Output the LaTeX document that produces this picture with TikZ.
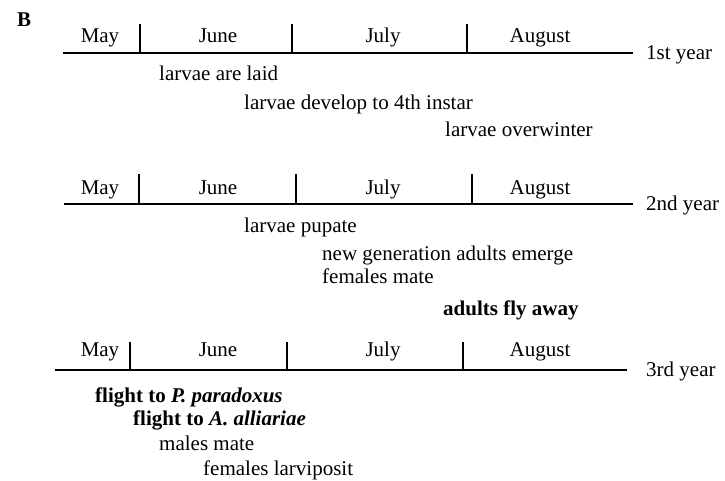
\documentclass[tikz,border=0pt]{standalone}
\usepackage{fontspec}
\setmainfont{Liberation Serif}

\begin{document}
\begin{tikzpicture}[x=1pt,y=-1pt,
  axis/.style={line width=1.4pt},
  txt/.style={font=\fontsize{21}{25}\selectfont,inner sep=0pt,anchor=base west},
  month/.style={txt,anchor=base}]
  \useasboundingbox (0,0) rectangle (725,481);

  \node[txt] (panel) at (17,27) {\textbf{B}};

  \coordinate (a1) at (63,53);  \coordinate (b1) at (633,53);
  \coordinate (a2) at (64,204); \coordinate (b2) at (633,204);
  \coordinate (a3) at (55,370); \coordinate (b3) at (627,370);
  \path[axis]
    (a1) edge (b1)
    (a2) edge (b2)
    (a3) edge (b3);

  \coordinate (t11) at (140,53); \coordinate (t12) at (292,53); \coordinate (t13) at (467,53);
  \coordinate (t21) at (139,204); \coordinate (t22) at (296,204); \coordinate (t23) at (472,204);
  \coordinate (t31) at (130,370); \coordinate (t32) at (287,370); \coordinate (t33) at (463,370);
  \draw[axis] (t11) -- ++(0,-29) (t12) -- ++(0,-29) (t13) -- ++(0,-29);
  \draw[axis] (t21) -- ++(0,-30) (t22) -- ++(0,-30) (t23) -- ++(0,-30);
  \draw[axis] (t31) -- ++(0,-28) (t32) -- ++(0,-28) (t33) -- ++(0,-28);

  \node[month] (may1) at (100,43) {May};
  \node[month] (jun1) at (218,43) {June};
  \node[month] (jul1) at (383,43) {July};
  \node[month] (aug1) at (540,43) {August};
  \node[month] (may2) at (100,194) {May};
  \node[month] (jun2) at (218,194) {June};
  \node[month] (jul2) at (383,194) {July};
  \node[month] (aug2) at (540,194) {August};
  \node[month] (may3) at (100,356) {May};
  \node[month] (jun3) at (218,356) {June};
  \node[month] (jul3) at (383,356) {July};
  \node[month] (aug3) at (540,356) {August};

  \node[txt] (year1) at (646,60) {1st year};
  \node[txt] (year2) at (646,211) {2nd year};
  \node[txt] (year3) at (646,376) {3rd year};

  \node[txt] (laid) at (159,81) {larvae are laid};
  \node[txt] (develop) at (244,110) {larvae develop to 4th instar};
  \node[txt] (overwinter) at (445,137) {larvae overwinter};

  \node[txt] (pupate) at (244,233) {larvae pupate};
  \node[txt] (emerge) at (322,260) {new generation adults emerge};
  \node[txt] (fmate) at (322,283) {females mate};
  \node[txt] (flyaway) at (443,315) {\textbf{adults fly away}};

  \node[txt] (toP) at (95,402) {\textbf{flight to \textit{P. paradoxus}}};
  \node[txt] (toA) at (133,425) {\textbf{flight to \textit{A. alliariae}}};
  \node[txt] (mmate) at (159,450) {males mate};
  \node[txt] (larviposit) at (203,475) {females larviposit};
\end{tikzpicture}
\end{document}
